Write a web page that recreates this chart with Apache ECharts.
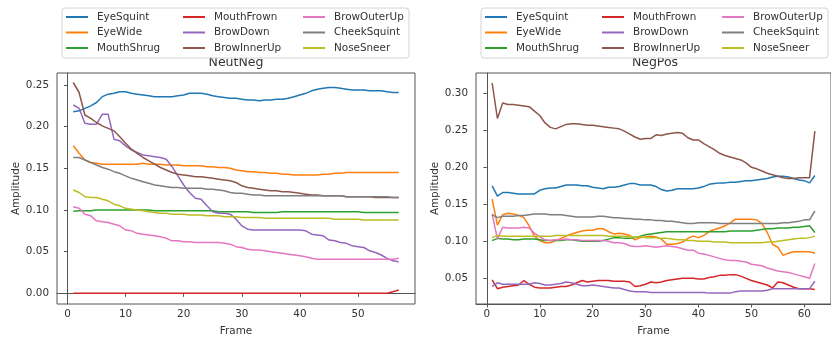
<!DOCTYPE html>
<html>
<head>
<meta charset="utf-8">
<script src="https://cdn.jsdelivr.net/npm/echarts@6/dist/echarts.min.js"></script>
<style>
  html, body { margin: 0; padding: 0; background: #fff; }
  #chart { width: 831px; height: 341px; }
</style>
</head>
<body>
<div id="chart"></div>
<script>
// names, in plotting order (tab10 palette)
const seriesNames = ["EyeSquint", "EyeWide", "MouthShrug", "MouthFrown", "BrowDown", "BrowInnerUp", "BrowOuterUp", "CheekSquint", "NoseSneer"];
const palette = ["#1f77b4", "#ff7f0e", "#2ca02c", "#d62728", "#9467bd", "#8c564b", "#e377c2", "#7f7f7f", "#bcbd22"];
const legendColumns = [["EyeSquint", "EyeWide", "MouthShrug"], ["MouthFrown", "BrowDown", "BrowInnerUp"], ["BrowOuterUp", "CheekSquint", "NoseSneer"]];

// NeutNeg panel
const nnFrames = [1,2,3,4,5,6,7,8,9,10,11,12,13,14,15,16,17,18,19,20,21,22,23,24,25,26,27,28,29,30,31,32,33,34,35,36,37,38,39,40,41,42,43,44,45,46,47,48,49,50,51,52,53,54,55,56,57];
const nnEyeSquint = [0.218,0.219,0.222,0.225,0.229,0.236,0.239,0.240,0.242,0.242,0.240,0.239,0.238,0.237,0.236,0.236,0.236,0.236,0.237,0.238,0.240,0.240,0.240,0.239,0.237,0.236,0.235,0.234,0.234,0.233,0.232,0.232,0.231,0.232,0.232,0.233,0.233,0.234,0.236,0.238,0.240,0.243,0.245,0.246,0.247,0.247,0.246,0.245,0.244,0.244,0.244,0.243,0.243,0.243,0.242,0.241,0.241];
const nnEyeWide = [0.177,0.168,0.160,0.157,0.156,0.155,0.155,0.155,0.155,0.155,0.155,0.155,0.156,0.155,0.155,0.155,0.154,0.154,0.154,0.153,0.153,0.153,0.153,0.152,0.152,0.151,0.151,0.150,0.148,0.147,0.146,0.146,0.145,0.145,0.144,0.144,0.143,0.143,0.142,0.142,0.142,0.142,0.142,0.143,0.143,0.144,0.144,0.145,0.145,0.145,0.145,0.145,0.145,0.145,0.145,0.145,0.145];
const nnMouthShrug = [0.0985,0.099,0.099,0.099,0.100,0.100,0.100,0.100,0.100,0.100,0.100,0.100,0.100,0.100,0.099,0.099,0.099,0.099,0.099,0.099,0.099,0.099,0.099,0.099,0.099,0.098,0.098,0.098,0.098,0.098,0.098,0.097,0.097,0.097,0.097,0.097,0.098,0.098,0.098,0.098,0.098,0.098,0.098,0.098,0.098,0.098,0.098,0.098,0.098,0.098,0.097,0.097,0.097,0.097,0.097,0.097,0.097];
const nnMouthFrown = [0,0,0,0,0,0,0,0,0,0,0,0,0,0,0,0,0,0,0,0,0,0,0,0,0,0,0,0,0,0,0,0,0,0,0,0,0,0,0,0,0,0,0,0,0,0,0,0,0,0,0,0,0,0,0,0.002,0.004];
const nnBrowDown = [0.226,0.222,0.204,0.203,0.203,0.215,0.215,0.185,0.183,0.177,0.172,0.169,0.166,0.165,0.164,0.163,0.161,0.152,0.141,0.130,0.121,0.114,0.113,0.105,0.098,0.096,0.096,0.095,0.089,0.081,0.077,0.076,0.076,0.076,0.076,0.076,0.076,0.076,0.076,0.076,0.075,0.071,0.070,0.069,0.064,0.063,0.061,0.060,0.057,0.056,0.055,0.051,0.049,0.046,0.042,0.039,0.038];
const nnBrowInnerUp = [0.253,0.241,0.214,0.210,0.205,0.201,0.198,0.195,0.188,0.180,0.173,0.168,0.163,0.159,0.155,0.151,0.148,0.145,0.143,0.142,0.141,0.140,0.140,0.139,0.138,0.137,0.136,0.135,0.133,0.129,0.127,0.126,0.125,0.124,0.123,0.123,0.122,0.122,0.121,0.120,0.119,0.118,0.118,0.117,0.117,0.117,0.117,0.116,0.116,0.116,0.116,0.116,0.115,0.115,0.115,0.115,0.115];
const nnBrowOuterUp = [0.104,0.102,0.095,0.093,0.087,0.086,0.085,0.083,0.081,0.076,0.075,0.072,0.071,0.070,0.069,0.068,0.066,0.063,0.063,0.062,0.062,0.061,0.061,0.061,0.061,0.061,0.060,0.059,0.056,0.055,0.053,0.052,0.052,0.051,0.050,0.049,0.048,0.047,0.046,0.045,0.044,0.042,0.041,0.041,0.041,0.041,0.041,0.041,0.041,0.041,0.041,0.041,0.041,0.041,0.041,0.041,0.042];
const nnCheekSquint = [0.163,0.163,0.160,0.157,0.154,0.151,0.149,0.146,0.144,0.141,0.138,0.136,0.134,0.132,0.130,0.129,0.128,0.127,0.127,0.126,0.126,0.126,0.126,0.125,0.125,0.124,0.123,0.121,0.120,0.120,0.119,0.118,0.118,0.117,0.117,0.117,0.117,0.117,0.117,0.117,0.117,0.117,0.117,0.117,0.117,0.117,0.117,0.116,0.116,0.116,0.116,0.116,0.116,0.116,0.116,0.115,0.115];
const nnNoseSneer = [0.124,0.121,0.116,0.115,0.115,0.113,0.111,0.107,0.105,0.102,0.101,0.100,0.099,0.098,0.097,0.096,0.096,0.095,0.095,0.095,0.094,0.094,0.094,0.093,0.093,0.093,0.092,0.092,0.092,0.091,0.091,0.091,0.091,0.090,0.090,0.090,0.090,0.090,0.090,0.090,0.090,0.090,0.090,0.090,0.090,0.089,0.089,0.089,0.089,0.089,0.088,0.088,0.088,0.088,0.088,0.088,0.088];

// NegPos panel
const npFrames = [1,2,3,4,5,6,7,8,9,10,11,12,13,14,15,16,17,18,19,20,21,22,23,24,25,26,27,28,29,30,31,32,33,34,35,36,37,38,39,40,41,42,43,44,45,46,47,48,49,50,51,52,53,54,55,56,57,58,59,60,61,62];
const npEyeSquint = [0.175,0.161,0.166,0.166,0.165,0.164,0.164,0.164,0.164,0.169,0.171,0.172,0.172,0.174,0.176,0.176,0.176,0.175,0.175,0.173,0.172,0.171,0.173,0.173,0.174,0.176,0.178,0.178,0.176,0.176,0.176,0.174,0.170,0.168,0.169,0.171,0.171,0.171,0.171,0.172,0.174,0.177,0.178,0.179,0.179,0.180,0.180,0.181,0.182,0.182,0.183,0.184,0.185,0.187,0.188,0.188,0.187,0.185,0.183,0.182,0.179,0.189];
const npEyeWide = [0.157,0.122,0.136,0.138,0.137,0.135,0.132,0.121,0.107,0.101,0.098,0.098,0.101,0.104,0.107,0.110,0.112,0.114,0.115,0.115,0.117,0.117,0.113,0.110,0.111,0.110,0.108,0.102,0.105,0.106,0.107,0.106,0.103,0.096,0.096,0.097,0.099,0.104,0.107,0.105,0.108,0.113,0.116,0.118,0.121,0.125,0.130,0.130,0.130,0.130,0.129,0.124,0.112,0.096,0.092,0.081,0.084,0.086,0.086,0.086,0.086,0.084];
const npMouthShrug = [0.101,0.104,0.103,0.103,0.102,0.102,0.103,0.103,0.103,0.102,0.101,0.101,0.101,0.101,0.102,0.102,0.101,0.100,0.100,0.100,0.100,0.101,0.103,0.105,0.105,0.104,0.104,0.105,0.107,0.109,0.110,0.111,0.112,0.113,0.113,0.113,0.113,0.113,0.113,0.113,0.113,0.113,0.113,0.113,0.113,0.114,0.114,0.114,0.114,0.114,0.115,0.116,0.117,0.117,0.118,0.118,0.118,0.119,0.119,0.120,0.121,0.112];
const npMouthFrown = [0.048,0.036,0.038,0.039,0.040,0.041,0.047,0.042,0.038,0.037,0.037,0.037,0.038,0.039,0.039,0.041,0.044,0.047,0.045,0.046,0.047,0.047,0.047,0.046,0.046,0.046,0.045,0.039,0.040,0.042,0.045,0.044,0.045,0.047,0.048,0.049,0.050,0.050,0.050,0.049,0.049,0.051,0.052,0.054,0.054,0.055,0.055,0.053,0.050,0.047,0.045,0.043,0.041,0.037,0.045,0.044,0.041,0.038,0.036,0.036,0.036,0.035];
const npBrowDown = [0.039,0.044,0.042,0.042,0.042,0.042,0.042,0.042,0.044,0.043,0.041,0.041,0.042,0.043,0.045,0.044,0.042,0.040,0.040,0.041,0.040,0.039,0.038,0.037,0.037,0.035,0.033,0.032,0.032,0.032,0.031,0.031,0.031,0.031,0.031,0.031,0.031,0.031,0.031,0.031,0.031,0.030,0.030,0.030,0.030,0.030,0.032,0.033,0.033,0.033,0.033,0.033,0.034,0.036,0.036,0.036,0.036,0.036,0.036,0.036,0.036,0.046];
const npBrowInnerUp = [0.314,0.266,0.287,0.285,0.285,0.284,0.283,0.282,0.276,0.270,0.260,0.254,0.252,0.255,0.258,0.259,0.259,0.258,0.257,0.257,0.256,0.255,0.254,0.253,0.252,0.249,0.245,0.241,0.238,0.239,0.239,0.244,0.243,0.245,0.246,0.247,0.246,0.240,0.237,0.237,0.232,0.228,0.224,0.219,0.216,0.214,0.212,0.210,0.206,0.200,0.198,0.195,0.192,0.190,0.188,0.186,0.185,0.185,0.186,0.186,0.186,0.249];
const npBrowOuterUp = [0.137,0.103,0.119,0.118,0.118,0.118,0.119,0.118,0.111,0.106,0.102,0.101,0.102,0.102,0.103,0.102,0.102,0.101,0.101,0.101,0.101,0.101,0.100,0.098,0.098,0.097,0.094,0.093,0.093,0.094,0.093,0.092,0.093,0.094,0.093,0.092,0.090,0.088,0.088,0.084,0.083,0.081,0.079,0.077,0.075,0.074,0.074,0.073,0.072,0.069,0.068,0.067,0.064,0.062,0.060,0.059,0.058,0.056,0.054,0.052,0.050,0.070];
const npCheekSquint = [0.136,0.132,0.134,0.134,0.134,0.135,0.135,0.136,0.137,0.137,0.137,0.136,0.136,0.136,0.135,0.134,0.133,0.133,0.133,0.133,0.134,0.134,0.133,0.132,0.132,0.131,0.131,0.130,0.130,0.129,0.129,0.128,0.128,0.127,0.127,0.126,0.125,0.124,0.124,0.125,0.125,0.125,0.125,0.124,0.124,0.124,0.124,0.124,0.124,0.124,0.124,0.124,0.124,0.124,0.124,0.125,0.125,0.126,0.127,0.129,0.129,0.141];
const npNoseSneer = [0.105,0.108,0.107,0.107,0.107,0.107,0.107,0.107,0.107,0.107,0.107,0.107,0.108,0.108,0.108,0.108,0.108,0.108,0.108,0.108,0.108,0.108,0.107,0.107,0.107,0.107,0.106,0.106,0.106,0.105,0.105,0.105,0.104,0.104,0.103,0.102,0.102,0.101,0.101,0.100,0.100,0.100,0.099,0.099,0.099,0.098,0.098,0.098,0.098,0.098,0.098,0.098,0.099,0.099,0.100,0.101,0.102,0.103,0.104,0.104,0.105,0.107];

// tick labels
const nnXTicks = [0, 10, 20, 30, 40, 50];
const nnYTicks = [0, 0.05, 0.10, 0.15, 0.20, 0.25];
const npXTicks = [0, 10, 20, 30, 40, 50, 60];
const npYTicks = [0.05, 0.10, 0.15, 0.20, 0.25, 0.30];

const panels = [
  { title: "NeutNeg", frames: nnFrames, values: [nnEyeSquint, nnEyeWide, nnMouthShrug, nnMouthFrown, nnBrowDown, nnBrowInnerUp, nnBrowOuterUp, nnCheekSquint, nnNoseSneer],
    xTicks: nnXTicks, yTicks: nnYTicks, xMin: -1.8, xMax: 59.8, yMin: -0.0128, yMax: 0.2644, left: 57 },
  { title: "NegPos", frames: npFrames, values: [npEyeSquint, npEyeWide, npMouthShrug, npMouthFrown, npBrowDown, npBrowInnerUp, npBrowOuterUp, npCheekSquint, npNoseSneer],
    xTicks: npXTicks, yTicks: npYTicks, xMin: -2.05, xMax: 65.05, yMin: 0.0153, yMax: 0.3275, left: 476 }
];

const FONT = "DejaVu Sans";
const AXIS_COLOR = "#555";
const TEXT_COLOR = "#333";
const GRID_TOP = 73, GRID_H = 232, GRID_W = 358;

const grids = [], xAxes = [], yAxes = [], series = [], titles = [], legends = [], boxes = [];
panels.forEach((p, i) => {
  grids.push({ left: p.left, top: GRID_TOP, width: GRID_W, height: GRID_H, show: true, borderColor: AXIS_COLOR, borderWidth: 1, backgroundColor: "transparent" });
  xAxes.push({
    gridIndex: i, type: "value", min: p.xMin, max: p.xMax,
    axisLine: { show: true, lineStyle: { color: AXIS_COLOR, width: 1 } },
    axisTick: { show: true, customValues: p.xTicks, length: 3.5, lineStyle: { color: AXIS_COLOR } },
    axisLabel: { customValues: p.xTicks, fontFamily: FONT, fontSize: 10.4, color: TEXT_COLOR, margin: 5 },
    splitLine: { show: false },
    name: "Frame", nameLocation: "middle", nameGap: 22,
    nameTextStyle: { fontFamily: FONT, fontSize: 10.4, color: TEXT_COLOR }
  });
  yAxes.push({
    gridIndex: i, type: "value", min: p.yMin, max: p.yMax,
    axisLine: { show: true, lineStyle: { color: AXIS_COLOR, width: 1 } },
    axisTick: { show: true, customValues: p.yTicks, length: 3.5, lineStyle: { color: AXIS_COLOR } },
    axisLabel: { customValues: p.yTicks, fontFamily: FONT, fontSize: 10.4, color: TEXT_COLOR, margin: 8,
      formatter: v => v.toFixed(2) },
    splitLine: { show: false },
    name: "Amplitude", nameLocation: "middle", nameGap: 36,
    nameTextStyle: { fontFamily: FONT, fontSize: 10.4, color: TEXT_COLOR }
  });
  seriesNames.forEach((name, k) => {
    series.push({
      type: "line", name: name, xAxisIndex: i, yAxisIndex: i,
      data: p.frames.map((f, j) => [f, p.values[k][j]]),
      showSymbol: false, symbol: "none",
      lineStyle: { width: 1.5, color: palette[k] },
      itemStyle: { color: palette[k] },
      clip: true
    });
  });
  titles.push({
    text: p.title, left: p.left + GRID_W / 2, top: 56, textAlign: "center", padding: 0, z: 1,
    textStyle: { fontFamily: FONT, fontSize: 12.5, fontWeight: "normal", color: TEXT_COLOR }
  });
  const boxLeft = p.left + 5;
  boxes.push({
    type: "rect", z: 5,
    shape: { x: boxLeft, y: 8, width: 347, height: 50, r: 3 },
    style: { fill: "rgba(255,255,255,0.85)", stroke: "#d4d4d4", lineWidth: 1 }
  });
  [4, 121, 241].forEach((off, c) => {
    legends.push({
      orient: "vertical", left: boxLeft + off, top: 10.5, padding: 0, itemGap: 2.5,
      itemWidth: 22, itemHeight: 2, icon: "rect", selectedMode: false, z: 10,
      data: legendColumns[c],
      textStyle: { fontFamily: FONT, fontSize: 10.4, color: TEXT_COLOR, lineHeight: 13, padding: [0, 0, 0, 4] }
    });
  });
});

const chart = echarts.init(document.getElementById("chart"), null, { renderer: "canvas" });
chart.setOption({
  animation: false,
  color: palette,
  textStyle: { fontFamily: FONT },
  title: titles,
  legend: legends,
  grid: grids,
  xAxis: xAxes,
  yAxis: yAxes,
  graphic: { elements: boxes },
  series: series
});
</script>
</body>
</html>
